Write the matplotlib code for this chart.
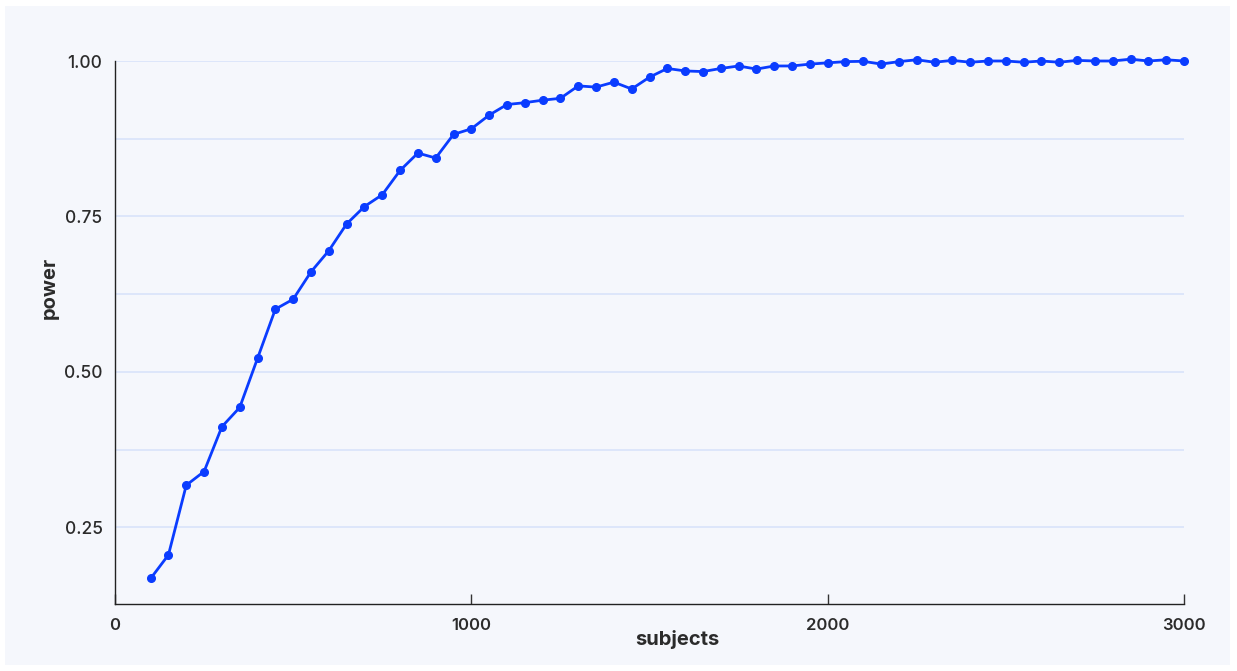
import matplotlib
matplotlib.use("Agg")
import matplotlib.pyplot as plt
from matplotlib.patches import Rectangle

# sample sizes and estimated power
subjects = list(range(100, 3001, 50))
power = [0.168, 0.206, 0.318, 0.340, 0.412, 0.443, 0.522, 0.601, 0.617, 0.661,
         0.695, 0.738, 0.766, 0.785, 0.824, 0.852, 0.844, 0.882, 0.891, 0.913,
         0.930, 0.933, 0.937, 0.940, 0.960, 0.958, 0.966, 0.955, 0.974, 0.988,
         0.984, 0.983, 0.988, 0.992, 0.987, 0.992, 0.992, 0.995, 0.997, 0.999,
         0.9995, 0.995, 0.999, 1.002, 0.998, 1.001, 0.998, 1.000, 1.000, 0.998,
         1.000, 0.998, 1.001, 1.000, 1.000, 1.003, 1.000, 1.002, 1.000]

xticks = [0, 1000, 2000, 3000]
yticks = [0.25, 0.50, 0.75, 1.00]

plt.rcParams['font.family'] = ['Inter', 'DejaVu Sans']

bg = '#f5f7fc'
line_col = '#0a3cff'
grid_col = '#dbe5fa'
text_col = '#2b2b2b'

fig = plt.figure(figsize=(12.37, 6.71), dpi=100)
fig.patch.set_facecolor('white')
fig.patches.append(Rectangle((5 / 1237, 6 / 671), 1225 / 1237, 659 / 671,
                             transform=fig.transFigure, facecolor=bg,
                             edgecolor='none', zorder=-10))

ax = fig.add_axes([115 / 1237, 1 - 604 / 671, 1069 / 1237, 543 / 671])
ax.patch.set_alpha(0)

ax.plot(subjects, power, color=line_col, lw=2, marker='o', ms=5.5,
        clip_on=False, zorder=3)

ax.set_xlim(0, 3000)
ax.set_ylim(0.127, 1.0)

ax.set_xticks(xticks)
ax.set_xticklabels([str(t) for t in xticks], fontweight='semibold')
ax.set_yticks(yticks)
ax.set_yticklabels(['%.2f' % t for t in yticks], fontweight='medium')
ax.set_yticks([0.375, 0.625, 0.875], minor=True)

ax.grid(axis='y', which='both', color=grid_col, lw=1.3, zorder=0)
ax.grid(axis='x', visible=False)

ax.tick_params(axis='x', direction='in', length=7, width=1, pad=10,
               labelsize=12, labelcolor=text_col, color='#333333')
ax.tick_params(axis='y', which='both', length=0, pad=9, labelsize=12.5,
               labelcolor=text_col)

for s in ['top', 'right']:
    ax.spines[s].set_visible(False)
for s in ['left', 'bottom']:
    ax.spines[s].set_color('#222222')
    ax.spines[s].set_linewidth(1)

ax.set_xlabel('subjects', fontsize=14.5, fontweight='bold', color=text_col)
ax.set_ylabel('power', fontsize=14.5, fontweight='bold', color=text_col)
ax.xaxis.set_label_coords(0.526, -0.048)
ax.yaxis.set_label_coords(-0.053, 0.582)

fig.savefig('out.png', dpi=100, facecolor=fig.get_facecolor())
